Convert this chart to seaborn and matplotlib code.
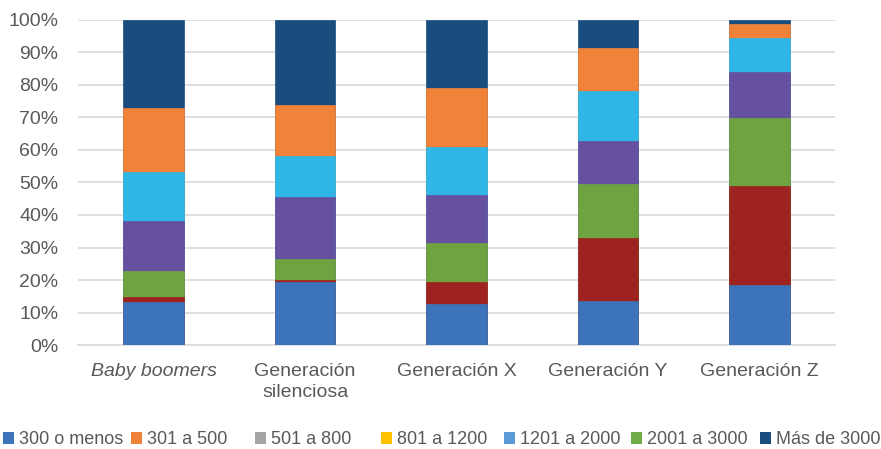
import matplotlib
matplotlib.use("Agg")
import matplotlib.pyplot as plt
from matplotlib.patches import Patch
from matplotlib.ticker import PercentFormatter
import numpy as np
import pandas as pd
import seaborn as sns

# Income brackets (legend labels) and generations (x categories)
brackets = ["300 o menos", "301 a 500", "501 a 800", "801 a 1200",
            "1201 a 2000", "2001 a 3000", "Más de 3000"]
generations = ["Baby boomers", "Generación\nsilenciosa", "Generación X",
               "Generación Y", "Generación Z"]

# Share (%) of each bracket within each generation, bottom to top
s_300_menos = [13.1, 19.5, 12.6, 13.6, 18.5]
s_301_500 = [1.6, 0.5, 6.9, 19.4, 30.4]
s_501_800 = [8.1, 6.5, 12.0, 16.4, 20.9]
s_801_1200 = [15.4, 19.1, 14.7, 13.5, 14.1]
s_1201_2000 = [15.1, 12.6, 14.6, 15.2, 10.5]
s_2001_3000 = [19.5, 15.7, 18.4, 13.2, 4.3]
s_mas_3000 = [27.2, 26.1, 20.8, 8.7, 1.3]

series = [s_300_menos, s_301_500, s_501_800, s_801_1200,
          s_1201_2000, s_2001_3000, s_mas_3000]

# Segment fill colours and legend swatch colours
bar_colors = ["#3D73BB", "#9E2320", "#6FA342", "#6650A0",
              "#30B5E7", "#F1823A", "#194D7E"]
legend_colors = ["#3D73BB", "#F1823A", "#A5A5A5", "#FFC000",
                 "#5B9BD5", "#70AD47", "#194D7E"]

sns.set_theme(style="white")
plt.rcParams["font.family"] = ["Liberation Sans", "DejaVu Sans"]

fig = plt.figure(figsize=(8.81, 4.49), dpi=100)
ax = fig.add_axes([0.0885, 0.2316, 0.8595, 0.7239])

vals = np.array(series)
cum = np.cumsum(vals, axis=0)
df = pd.DataFrame({"gen": generations})

# Draw cumulative totals from the top layer down so each segment shows
for k in range(len(series) - 1, -1, -1):
    df["total"] = cum[k]
    sns.barplot(data=df, x="gen", y="total", color=bar_colors[k],
                saturation=1, width=0.4, ax=ax, zorder=3,
                edgecolor=bar_colors[k], linewidth=0.5)

ax.set_ylim(0, 100)
ax.set_xlim(-0.5, len(generations) - 0.5)
ax.set_yticks(np.arange(0, 101, 10))
ax.yaxis.set_major_formatter(PercentFormatter(decimals=0))
ax.yaxis.grid(True, color="#D9D9D9", linewidth=1.2, zorder=0)
ax.xaxis.grid(False)
for sp in ["top", "right", "left"]:
    ax.spines[sp].set_visible(False)
ax.spines["bottom"].set_color("#D9D9D9")
ax.spines["bottom"].set_linewidth(1.2)
ax.set_xlabel("")
ax.set_ylabel("")
ax.tick_params(axis="y", length=0, pad=14, labelsize=14, labelcolor="#595959")
ax.tick_params(axis="x", length=0, pad=13, labelsize=14, labelcolor="#595959")
ax.set_xticks(range(len(generations)))
ax.set_xticklabels(generations, linespacing=1.3)
ax.get_xticklabels()[0].set_style("italic")

# One legend entry per slot along the bottom
slot_x = [5, 133, 257, 383, 506, 633, 762]
for name, col, x0 in zip(brackets, legend_colors, slot_x):
    fig.legend(handles=[Patch(facecolor=col, edgecolor="none")], labels=[name],
               loc="center left", bbox_to_anchor=(x0 / 881 - 0.0025, 1 - 440 / 449),
               frameon=False, fontsize=13, handlelength=0.62, handleheight=0.62,
               handletextpad=0.25, borderpad=0, borderaxespad=0,
               labelcolor="#595959")

fig.savefig("out.png", dpi=100)
